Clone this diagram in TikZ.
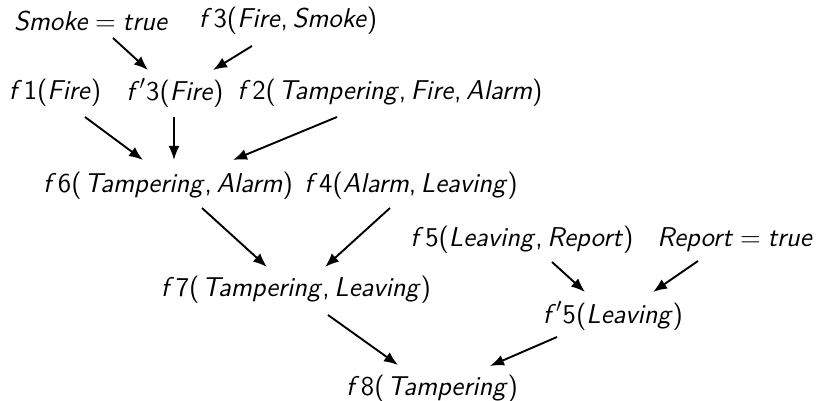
\documentclass[tikz,border=0pt]{standalone}
\usepackage{fontspec}
\usetikzlibrary{arrows.meta,calc}
\newcommand{\vi}[1]{\textit{#1}}
\newcommand{\eqs}{\hspace{0.25em}=\hspace{0.25em}}
\newcommand{\cm}{,\hspace{0.17em}}
\newcommand{\gp}{\hspace{0.1em}}
\newcommand{\fg}{\hspace{0.06em}}
\tikzset{
  lbl/.style={font=\sffamily\fontsize{13.6pt}{16pt}\selectfont, inner sep=0pt, anchor=center},
  arr/.style={-{Latex[length=7pt,width=5.5pt]}, line width=0.95pt}
}
\begin{document}
\begin{tikzpicture}[x=0.5pt,y=-0.5pt]
\useasboundingbox (0,0) rectangle (816,401);
\node[lbl] (smoke) at (91,21) {\vi{Smoke}\eqs\vi{true}};
\node[lbl] (f3) at (288,21) {\vi{f}\fg3(\vi{Fire}\cm\vi{Smoke})};
\node[lbl] (f1) at (55,93) {\vi{f}\fg1(\vi{Fire})};
\node[lbl] (fp3) at (175,93) {\vi{f}$'$3(\vi{Fire})};
\node[lbl] (f2) at (390,93) {\vi{f}\fg2(\gp\vi{Tampering}\cm\vi{Fire}\cm\vi{Alarm})};
\node[lbl] (f6) at (168,186) {\vi{f}\fg6(\gp\vi{Tampering}\cm\vi{Alarm})};
\node[lbl] (f4) at (411,186) {\vi{f}\fg4(\vi{Alarm}\cm\vi{Leaving})};
\node[lbl] (f5) at (522,240) {\vi{f}\fg5(\vi{Leaving}\cm\vi{Report})};
\node[lbl] (report) at (735,240) {\vi{Report}\eqs\vi{true}};
\node[lbl] (f7) at (296,290) {\vi{f}\fg7(\gp\vi{Tampering}\cm\vi{Leaving})};
\node[lbl] (fp5) at (613,316) {\vi{f}$'$5(\vi{Leaving})};
\node[lbl] (f8) at (432,389) {\vi{f}\fg8(\gp\vi{Tampering})};

\draw[arr] ($(smoke.center)+(22,17)$) -- ($(fp3.center)+(-27,-23)$);
\draw[arr] ($(f3.center)+(-36,25)$) -- ($(fp3.center)+(38,-23)$);
\draw[arr] ($(f1.center)+(30,24)$) -- ($(f6.center)+(-25,-26)$);
\draw[arr] ($(fp3.center)+(-1,24)$) -- ($(f6.center)+(6,-26)$);
\draw[arr] ($(f2.center)+(-53,24)$) -- ($(f6.center)+(65,-26)$);
\draw[arr] ($(f6.center)+(34,22)$) -- ($(f7.center)+(-29,-23)$);
\draw[arr] ($(f4.center)+(-21,22)$) -- ($(f7.center)+(29,-23)$);
\draw[arr] ($(f5.center)+(30,22)$) -- ($(fp5.center)+(-28,-24)$);
\draw[arr] ($(report.center)+(-37,21)$) -- ($(fp5.center)+(40,-24)$);
\draw[arr] ($(f7.center)+(32,25)$) -- ($(f8.center)+(-34,-24)$);
\draw[arr] ($(fp5.center)+(-56,21)$) -- ($(f8.center)+(58,-23)$);
\end{tikzpicture}
\end{document}
